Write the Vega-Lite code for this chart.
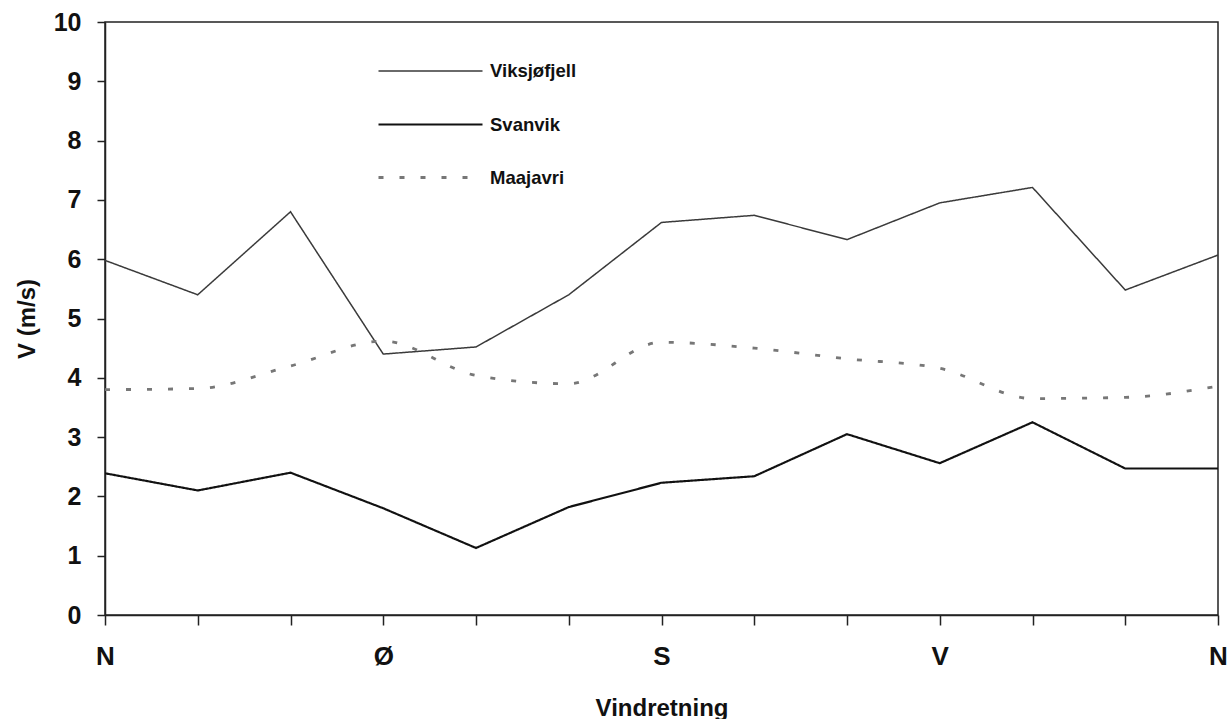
{
  "$schema": "https://vega.github.io/schema/vega-lite/v6.json",
  "width": 1113,
  "height": 593,
  "autosize": "none",
  "padding": {"left": 105, "top": 22, "right": 12, "bottom": 104},
  "background": "white",
  "config": {
    "view": {"stroke": "#222", "strokeWidth": 1.5},
    "font": "Liberation Sans",
    "legend": {
      "title": null,
      "orient": "none",
      "legendX": 298,
      "legendY": 22,
      "padding": 0,
      "symbolType": "M-2,0H2",
      "symbolSize": 2704,
      "symbolFillColor": "transparent",
      "labelFontSize": 18.5,
      "labelFontWeight": "bold",
      "labelColor": "#111",
      "labelOffset": 32,
      "rowPadding": 16
    }
  },
  "data": {
    "values": [
      {"dir": 0, "series": "Viksjøfjell", "v": 5.98},
      {"dir": 1, "series": "Viksjøfjell", "v": 5.4},
      {"dir": 2, "series": "Viksjøfjell", "v": 6.8},
      {"dir": 3, "series": "Viksjøfjell", "v": 4.4},
      {"dir": 4, "series": "Viksjøfjell", "v": 4.52},
      {"dir": 5, "series": "Viksjøfjell", "v": 5.4},
      {"dir": 6, "series": "Viksjøfjell", "v": 6.62},
      {"dir": 7, "series": "Viksjøfjell", "v": 6.74},
      {"dir": 8, "series": "Viksjøfjell", "v": 6.33},
      {"dir": 9, "series": "Viksjøfjell", "v": 6.95},
      {"dir": 10, "series": "Viksjøfjell", "v": 7.21},
      {"dir": 11, "series": "Viksjøfjell", "v": 5.48},
      {"dir": 12, "series": "Viksjøfjell", "v": 6.07},
      {"dir": 0, "series": "Svanvik", "v": 2.39},
      {"dir": 1, "series": "Svanvik", "v": 2.1},
      {"dir": 2, "series": "Svanvik", "v": 2.4},
      {"dir": 3, "series": "Svanvik", "v": 1.8},
      {"dir": 4, "series": "Svanvik", "v": 1.13},
      {"dir": 5, "series": "Svanvik", "v": 1.82},
      {"dir": 6, "series": "Svanvik", "v": 2.23},
      {"dir": 7, "series": "Svanvik", "v": 2.34},
      {"dir": 8, "series": "Svanvik", "v": 3.05},
      {"dir": 9, "series": "Svanvik", "v": 2.56},
      {"dir": 10, "series": "Svanvik", "v": 3.25},
      {"dir": 11, "series": "Svanvik", "v": 2.47},
      {"dir": 12, "series": "Svanvik", "v": 2.47},
      {"dir": 0, "series": "Maajavri", "v": 3.8},
      {"dir": 1, "series": "Maajavri", "v": 3.82},
      {"dir": 2, "series": "Maajavri", "v": 4.2},
      {"dir": 3, "series": "Maajavri", "v": 4.62},
      {"dir": 4, "series": "Maajavri", "v": 4.04},
      {"dir": 5, "series": "Maajavri", "v": 3.9},
      {"dir": 6, "series": "Maajavri", "v": 4.6},
      {"dir": 7, "series": "Maajavri", "v": 4.5},
      {"dir": 8, "series": "Maajavri", "v": 4.32},
      {"dir": 9, "series": "Maajavri", "v": 4.16},
      {"dir": 10, "series": "Maajavri", "v": 3.65},
      {"dir": 11, "series": "Maajavri", "v": 3.67},
      {"dir": 12, "series": "Maajavri", "v": 3.86}
    ]
  },
  "encoding": {
    "x": {
      "field": "dir",
      "type": "quantitative",
      "scale": {"domain": [0, 12], "nice": false, "zero": false},
      "axis": {
        "title": "Vindretning",
        "values": [0, 1, 2, 3, 4, 5, 6, 7, 8, 9, 10, 11, 12],
        "labelExpr": "datum.value == 0 ? 'N' : datum.value == 3 ? 'Ø' : datum.value == 6 ? 'S' : datum.value == 9 ? 'V' : datum.value == 12 ? 'N' : ''",
        "grid": false,
        "domainColor": "#222",
        "domainWidth": 1.5,
        "tickColor": "#222",
        "tickWidth": 1.5,
        "tickSize": 10,
        "labelFontSize": 26,
        "labelFontWeight": "bold",
        "labelColor": "#111",
        "labelPadding": 18,
        "labelFlush": false,
        "labelOverlap": false,
        "titleFontSize": 24,
        "titleFontWeight": "bold",
        "titleColor": "#111",
        "titlePadding": 27
      }
    },
    "y": {
      "field": "v",
      "type": "quantitative",
      "scale": {"domain": [0, 10], "nice": false},
      "axis": {
        "title": "V (m/s)",
        "values": [0, 1, 2, 3, 4, 5, 6, 7, 8, 9, 10],
        "grid": false,
        "domainColor": "#222",
        "domainWidth": 1.5,
        "tickColor": "#222",
        "tickWidth": 1.5,
        "tickSize": 8,
        "labelFontSize": 25,
        "labelFontWeight": "bold",
        "labelColor": "#111",
        "labelPadding": 16,
        "labelFlush": false,
        "titleFontSize": 24,
        "titleFontWeight": "bold",
        "titleColor": "#111",
        "titlePadding": 14
      }
    },
    "strokeDash": {
      "field": "series",
      "type": "nominal",
      "scale": {
        "domain": ["Viksjøfjell", "Svanvik", "Maajavri"],
        "range": [[1, 0], [1, 0], [5, 16]]
      }
    },
    "strokeWidth": {
      "field": "series",
      "type": "nominal",
      "scale": {
        "domain": ["Viksjøfjell", "Svanvik", "Maajavri"],
        "range": [1.5, 2.8, 2]
      }
    },
    "color": {
      "field": "series",
      "type": "nominal",
      "scale": {
        "domain": ["Viksjøfjell", "Svanvik", "Maajavri"],
        "range": ["#3a3a3a", "#111111", "#777777"]
      }
    }
  },
  "layer": [
    {
      "transform": [{"filter": "datum.series != 'Maajavri'"}],
      "mark": {"type": "line", "interpolate": "linear", "clip": true}
    },
    {
      "transform": [{"filter": "datum.series == 'Maajavri'"}],
      "mark": {"type": "line", "interpolate": "monotone", "clip": true}
    }
  ]
}
